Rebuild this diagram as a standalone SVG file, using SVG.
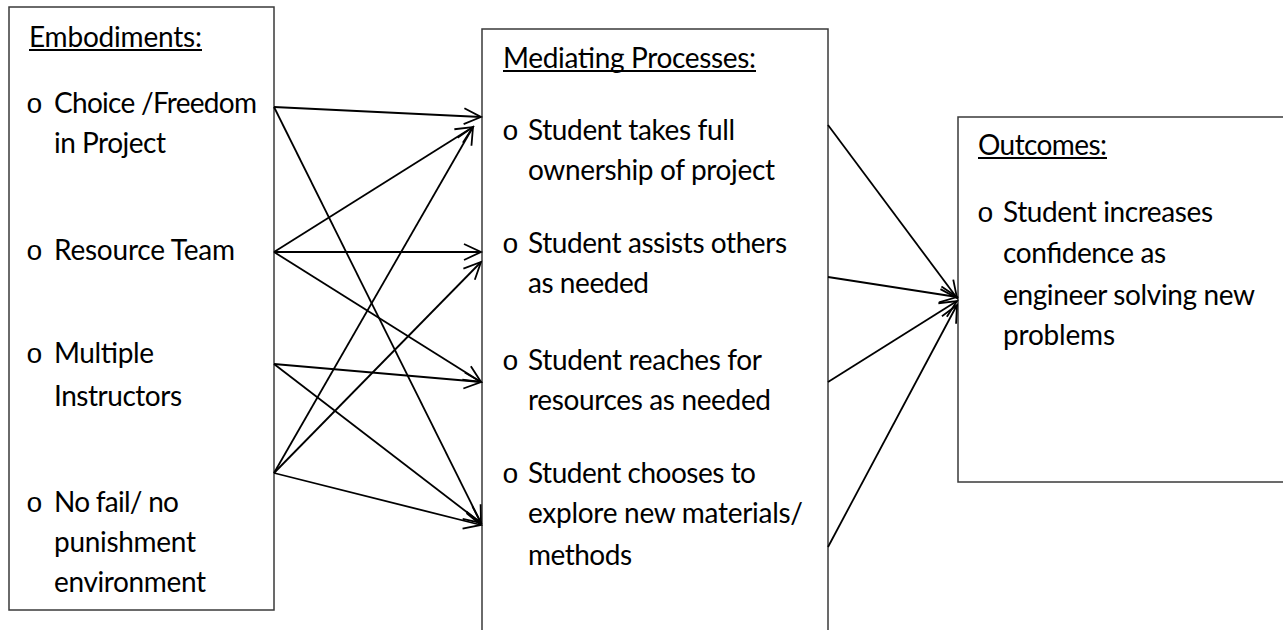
<svg xmlns="http://www.w3.org/2000/svg" width="1283" height="630" viewBox="0 0 1283 630">
  <style>
    .box { fill: #ffffff; stroke: #3a3a3a; stroke-width: 1.5; }
    .t { font-family: "Lato", "Liberation Sans", sans-serif; font-size: 28px; fill: #000000; }
    .b { font-family: "Liberation Mono", monospace; font-size: 28px; fill: #000000; }
    .ul { stroke: #000000; stroke-width: 2; }
    .c { stroke: #000000; stroke-width: 1.8; fill: none; marker-end: url(#arr); }
  </style>
  <defs>
    <marker id="arr" markerUnits="userSpaceOnUse" markerWidth="40" markerHeight="40" refX="0" refY="0" viewBox="-20 -20 40 40" orient="auto" overflow="visible">
      <path d="M-17,-8 L0,0 L-17,8" fill="none" stroke="#000000" stroke-width="1.8"/>
    </marker>
  </defs>
  <rect width="1283" height="630" fill="#ffffff"/>

  <g id="embodiments">
    <rect class="box" x="9" y="7" width="265" height="603"/>
    <text class="t" x="29" y="47" textLength="173">Embodiments:</text>
    <line class="ul" x1="29" y1="50" x2="202" y2="50"/>
    <text class="b" x="26" y="113">o</text>
    <text class="t" x="54" y="113" textLength="203">Choice /Freedom</text>
    <text class="t" x="54" y="153" textLength="112">in Project</text>
    <text class="b" x="26" y="260">o</text>
    <text class="t" x="54" y="260" textLength="181">Resource Team</text>
    <text class="b" x="26" y="363">o</text>
    <text class="t" x="54" y="363" textLength="100">Multiple</text>
    <text class="t" x="54" y="406" textLength="128">Instructors</text>
    <text class="b" x="26" y="512">o</text>
    <text class="t" x="54" y="512" textLength="125">No fail/ no</text>
    <text class="t" x="54" y="552" textLength="142">punishment</text>
    <text class="t" x="54" y="592" textLength="152">environment</text>
  </g>

  <g id="mediating">
    <rect class="box" x="482" y="29" width="346" height="620"/>
    <text class="t" x="503" y="68" textLength="253">Mediating Processes:</text>
    <line class="ul" x1="503" y1="71" x2="756" y2="71"/>
    <text class="b" x="502" y="140">o</text>
    <text class="t" x="528" y="140" textLength="207">Student takes full</text>
    <text class="t" x="528" y="180" textLength="247">ownership of project</text>
    <text class="b" x="502" y="253">o</text>
    <text class="t" x="528" y="253" textLength="259">Student assists others</text>
    <text class="t" x="528" y="293" textLength="121">as needed</text>
    <text class="b" x="502" y="370">o</text>
    <text class="t" x="528" y="370" textLength="234">Student reaches for</text>
    <text class="t" x="528" y="410" textLength="243">resources as needed</text>
    <text class="b" x="502" y="483">o</text>
    <text class="t" x="528" y="483" textLength="228">Student chooses to</text>
    <text class="t" x="528" y="523" textLength="275">explore new materials/</text>
    <text class="t" x="528" y="565" textLength="104">methods</text>
  </g>

  <g id="outcomes">
    <rect class="box" x="958" y="117" width="340" height="365"/>
    <text class="t" x="978" y="155" textLength="129">Outcomes:</text>
    <line class="ul" x1="978" y1="158" x2="1107" y2="158"/>
    <text class="b" x="977" y="222">o</text>
    <text class="t" x="1003" y="222" textLength="210">Student increases</text>
    <text class="t" x="1003" y="263" textLength="163">confidence as</text>
    <text class="t" x="1003" y="305" textLength="252">engineer solving new</text>
    <text class="t" x="1003" y="345" textLength="112">problems</text>
  </g>

  <g id="connectors">
    <line class="c" x1="274" y1="107" x2="481" y2="117"/>
    <line class="c" x1="274" y1="107" x2="481" y2="523"/>
    <line class="c" x1="274" y1="252" x2="473" y2="127"/>
    <line class="c" x1="274" y1="252" x2="481" y2="252"/>
    <line class="c" x1="274" y1="252" x2="481" y2="382"/>
    <line class="c" x1="274" y1="364" x2="481" y2="382"/>
    <line class="c" x1="274" y1="364" x2="481" y2="523"/>
    <line class="c" x1="274" y1="473" x2="473" y2="127"/>
    <line class="c" x1="274" y1="473" x2="481" y2="262"/>
    <line class="c" x1="274" y1="473" x2="481" y2="525"/>
    <line class="c" x1="828" y1="125" x2="957" y2="298"/>
    <line class="c" x1="828" y1="277" x2="957" y2="297"/>
    <line class="c" x1="828" y1="382" x2="957" y2="301"/>
    <line class="c" x1="828" y1="547" x2="957" y2="305"/>
  </g>
</svg>
